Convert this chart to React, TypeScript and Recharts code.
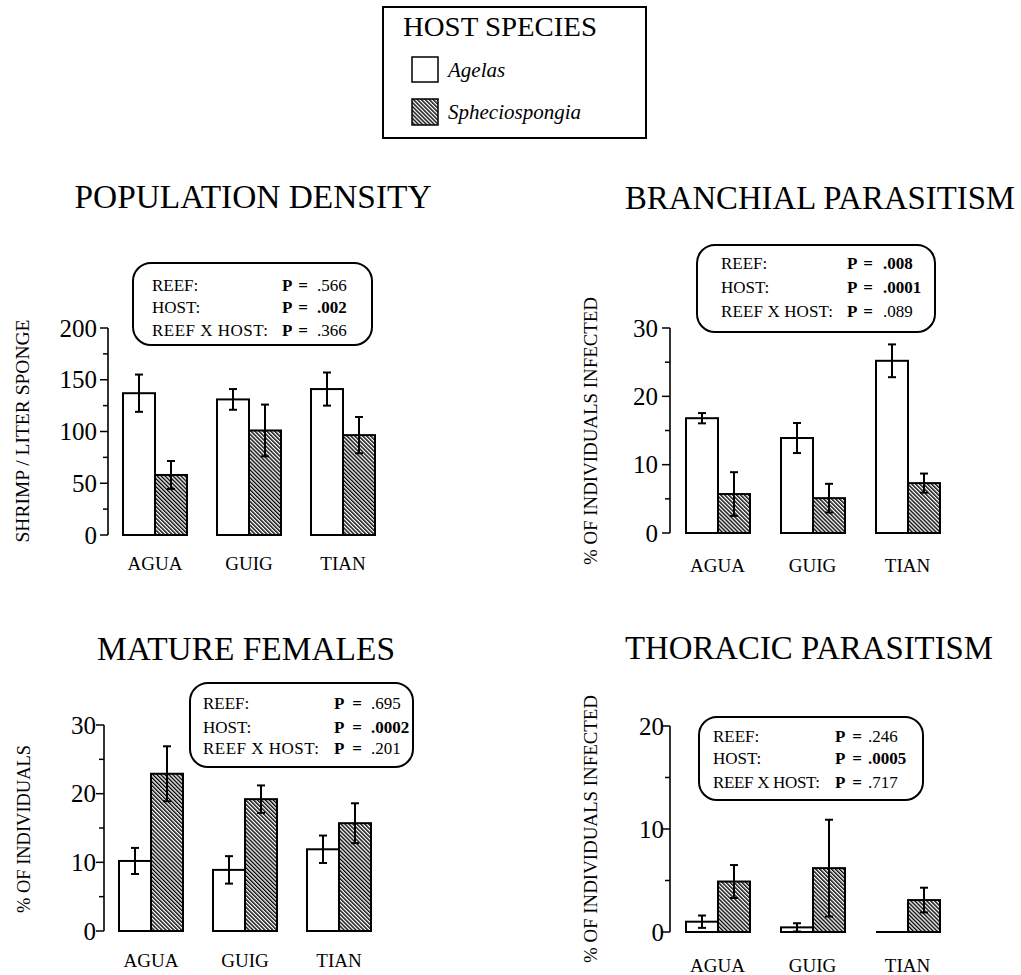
import React from 'react'
import { BarChart, Bar, XAxis, YAxis, ErrorBar } from 'recharts'

const FONT = '"Liberation Serif", "Times New Roman", serif'

const SITES = ['AGUA', 'GUIG', 'TIAN']

// population density (shrimp / liter sponge)
const densityAgelas = [137, 131, 141]
const densityAgelasErr = [18, 10, 16]
const densitySphecio = [58, 101, 96.5]
const densitySphecioErr = [13.5, 25, 17.5]

// branchial parasitism (% infected)
const branchialAgelas = [16.8, 13.9, 25.2]
const branchialAgelasErr = [0.75, 2.2, 2.4]
const branchialSphecio = [5.7, 5.1, 7.3]
const branchialSphecioErr = [3.2, 2.1, 1.4]

// mature females (%)
const femalesAgelas = [10.2, 8.9, 11.9]
const femalesAgelasErr = [1.9, 2.0, 2.0]
const femalesSphecio = [22.9, 19.2, 15.7]
const femalesSphecioErr = [4.0, 2.0, 2.9]

// thoracic parasitism (% infected)
const thoracicAgelas = [1.0, 0.45, 0]
const thoracicAgelasErr = [0.6, 0.4, 0]
const thoracicSphecio = [4.9, 6.2, 3.1]
const thoracicSphecioErr = [1.6, 4.7, 1.2]

const densityTicks = [0, 25, 50, 75, 100, 125, 150, 175, 200]
const densityMajor = [0, 50, 100, 150, 200]
const pct30Ticks = [0, 5, 10, 15, 20, 25, 30]
const pct30Major = [0, 10, 20, 30]
const pct20Ticks = [0, 5, 10, 15, 20]
const pct20Major = [0, 10, 20]

const STAT_LABELS = ['REEF:', 'HOST:', 'REEF X HOST:']
const densityP = ['.566', '.002', '.366']
const densityBold = [false, true, false]
const branchialP = ['.008', '.0001', '.089']
const branchialBold = [true, true, false]
const femalesP = ['.695', '.0002', '.201']
const femalesBold = [false, true, false]
const thoracicP = ['.246', '.0005', '.717']
const thoracicBold = [false, true, false]

function BarShape(p: any) {
  if (!(p.height > 0.5)) {
    // zero-height bar: only the outline at the baseline shows
    return <line x1={p.x} x2={p.x + p.width} y1={p.y} y2={p.y} stroke="#000" strokeWidth={2} />
  }
  return (
    <rect x={p.x} y={p.y} width={p.width} height={p.height}
      fill={p.fill} stroke="#000" strokeWidth={2} />
  )
}

function YTick(p: any) {
  const isMajor = p.major.includes(p.payload.value)
  const len = isMajor ? 8 : 5
  return (
    <g>
      <line x1={p.x - len} x2={p.x} y1={p.y} y2={p.y} stroke="#000" strokeWidth={1.5} />
      {isMajor && (
        <text x={p.x - p.gap} y={p.y} dy="0.34em" textAnchor="end"
          fontFamily={FONT} fontSize={25} fill="#000">
          {p.payload.value}
        </text>
      )}
    </g>
  )
}

function XTick(p: any) {
  return (
    <text x={p.x} y={p.y + p.offset} textAnchor="middle" fontFamily={FONT} fontSize={19} fill="#000">
      {p.payload.value}
    </text>
  )
}

function Panel({ cfg, agelas, agelasErr, sphecio, sphecioErr, ticks, major }: any) {
  const data = SITES.map((site, i) => ({
    site,
    agelas: agelas[i],
    agelasErr: agelasErr[i],
    sphecio: sphecio[i],
    sphecioErr: sphecioErr[i],
  }))
  const yWidth = cfg.axisX - cfg.left
  const height = cfg.plotBottom - cfg.top + 50
  const width = yWidth + cfg.plotWidth + 10
  return (
    <div style={{ position: 'absolute', left: cfg.left, top: cfg.top }}>
      <BarChart width={width} height={height} data={data} barGap={0} barSize={32}
        margin={{ top: cfg.plotTop - cfg.top, right: 10, bottom: 0, left: 0 }}>
        <XAxis dataKey="site" height={50} axisLine={false} tickLine={false} tickSize={0} tickMargin={0}
          interval={0} tick={(t: any) => <XTick {...t} offset={cfg.labelOffset} />} />
        <YAxis width={yWidth} domain={[0, ticks[ticks.length - 1]]} ticks={ticks} interval={0}
          tickLine={false} tickSize={0} tickMargin={0}
          axisLine={{ stroke: '#000', strokeWidth: 1.6 }}
          tick={(t: any) => <YTick {...t} major={major} gap={cfg.tickGap} />} />
        <Bar dataKey="agelas" fill="#fff" shape={BarShape} isAnimationActive={false}>
          <ErrorBar dataKey="agelasErr" width={4} stroke="#000" strokeWidth={2} isAnimationActive={false} />
        </Bar>
        <Bar dataKey="sphecio" fill="url(#hatch)" shape={BarShape} isAnimationActive={false}>
          <ErrorBar dataKey="sphecioErr" width={4} stroke="#000" strokeWidth={2} isAnimationActive={false} />
        </Bar>
      </BarChart>
    </div>
  )
}

function StatsBox({ box, values, bold }: any) {
  return (
    <g fontFamily={FONT} fontSize={17} fill="#000">
      <rect x={box.x} y={box.y} width={box.w} height={box.h} rx={18} fill="none" stroke="#000" strokeWidth={2} />
      {STAT_LABELS.map((lab, i) => (
        <g key={lab}>
          <text x={box.labelX} y={box.base[i]}
            textLength={i === 2 ? box.rxhLen : undefined} lengthAdjust="spacing">{lab}</text>
          <text x={box.pX} y={box.base[i]} fontWeight="bold">P</text>
          <text x={box.eqX} y={box.base[i]} textAnchor="middle" fontWeight="bold">=</text>
          <text x={box.valX} y={box.base[i]} fontWeight={bold[i] ? 'bold' : 'normal'}>{values[i]}</text>
        </g>
      ))}
    </g>
  )
}

function Title({ x, y, text, len }: any) {
  return (
    <text x={x} y={y} textAnchor="middle" fontFamily={FONT} fontSize={33} fill="#000"
      textLength={len} lengthAdjust="spacingAndGlyphs">{text}</text>
  )
}

function YLabel({ x, y, text, len }: any) {
  return (
    <text x={x} y={y} transform={`rotate(-90 ${x} ${y})`} textAnchor="middle" dominantBaseline="central"
      fontFamily={FONT} fontSize={19} fill="#000" textLength={len} lengthAdjust="spacingAndGlyphs">{text}</text>
  )
}

export default function App() {
  return (
    <div style={{ position: 'absolute', left: 0, top: 0, width: 1021, height: 975, overflow: 'hidden', background: '#fff' }}>
      <Panel cfg={{ left: 0, top: 300, axisX: 108, plotTop: 328, plotBottom: 535, plotWidth: 282, labelOffset: 35, tickGap: 11 }}
        agelas={densityAgelas} agelasErr={densityAgelasErr} sphecio={densitySphecio} sphecioErr={densitySphecioErr}
        ticks={densityTicks} major={densityMajor} />
      <Panel cfg={{ left: 600, top: 300, axisX: 670, plotTop: 328, plotBottom: 533, plotWidth: 285, labelOffset: 39, tickGap: 12 }}
        agelas={branchialAgelas} agelasErr={branchialAgelasErr} sphecio={branchialSphecio} sphecioErr={branchialSphecioErr}
        ticks={pct30Ticks} major={pct30Major} />
      <Panel cfg={{ left: 0, top: 690, axisX: 104, plotTop: 725, plotBottom: 931, plotWidth: 282, labelOffset: 36, tickGap: 8 }}
        agelas={femalesAgelas} agelasErr={femalesAgelasErr} sphecio={femalesSphecio} sphecioErr={femalesSphecioErr}
        ticks={pct30Ticks} major={pct30Major} />
      <Panel cfg={{ left: 600, top: 690, axisX: 670, plotTop: 726, plotBottom: 932, plotWidth: 285, labelOffset: 40, tickGap: 6 }}
        agelas={thoracicAgelas} agelasErr={thoracicAgelasErr} sphecio={thoracicSphecio} sphecioErr={thoracicSphecioErr}
        ticks={pct20Ticks} major={pct20Major} />

      <svg width={1021} height={975} style={{ position: 'absolute', left: 0, top: 0, pointerEvents: 'none' }}>
        <defs>
          <pattern id="hatch" patternUnits="userSpaceOnUse" width={2.8} height={2.8} patternTransform="rotate(-45)">
            <rect width={2.8} height={2.8} fill="#fff" />
            <line x1={0.7} y1={0} x2={0.7} y2={2.8} stroke="#000" strokeWidth={1.4} />
          </pattern>
        </defs>

        {/* legend */}
        <rect x={383} y={7} width={263} height={131} fill="#fff" stroke="#000" strokeWidth={2} />
        <text x={403} y={36} fontFamily={FONT} fontSize={27} textLength={194} lengthAdjust="spacingAndGlyphs">HOST SPECIES</text>
        <rect x={412} y={57} width={26} height={25} fill="#fff" stroke="#000" strokeWidth={1.5} />
        <text x={448} y={77} fontFamily={FONT} fontSize={21} fontStyle="italic">Agelas</text>
        <rect x={412} y={99} width={26} height={26} fill="url(#hatch)" stroke="#000" strokeWidth={1.5} />
        <text x={448} y={119} fontFamily={FONT} fontSize={21} fontStyle="italic">Spheciospongia</text>

        <Title x={253} y={208} len={357} text="POPULATION DENSITY" />
        <Title x={820} y={209} len={390} text="BRANCHIAL PARASITISM" />
        <Title x={246} y={660} len={298} text="MATURE FEMALES" />
        <Title x={809} y={659} len={368} text="THORACIC PARASITISM" />

        <YLabel x={22} y={431} len={223} text="SHRIMP / LITER  SPONGE" />
        <YLabel x={590} y={431} len={268} text="% OF INDIVIDUALS INFECTED" />
        <YLabel x={23} y={829} len={168} text="% OF INDIVIDUALS" />
        <YLabel x={590} y={829} len={268} text="% OF INDIVIDUALS INFECTED" />

        <StatsBox values={densityP} bold={densityBold}
          box={{ x: 133, y: 263, w: 239, h: 82, labelX: 152, pX: 282, eqX: 303, valX: 317, base: [291, 313, 336], rxhLen: 116 }} />
        <StatsBox values={branchialP} bold={branchialBold}
          box={{ x: 697, y: 245, w: 238, h: 87, labelX: 721, pX: 847, eqX: 868, valX: 883, base: [269, 293, 317], rxhLen: 112 }} />
        <StatsBox values={femalesP} bold={femalesBold}
          box={{ x: 190, y: 683, w: 223, h: 84, labelX: 203, pX: 334, eqX: 357, valX: 371, base: [709, 733, 754], rxhLen: 116 }} />
        <StatsBox values={thoracicP} bold={thoracicBold}
          box={{ x: 699, y: 717, w: 224, h: 83, labelX: 713, pX: 835, eqX: 857, valX: 868, base: [742, 764, 788], rxhLen: 107 }} />
      </svg>
    </div>
  )
}
